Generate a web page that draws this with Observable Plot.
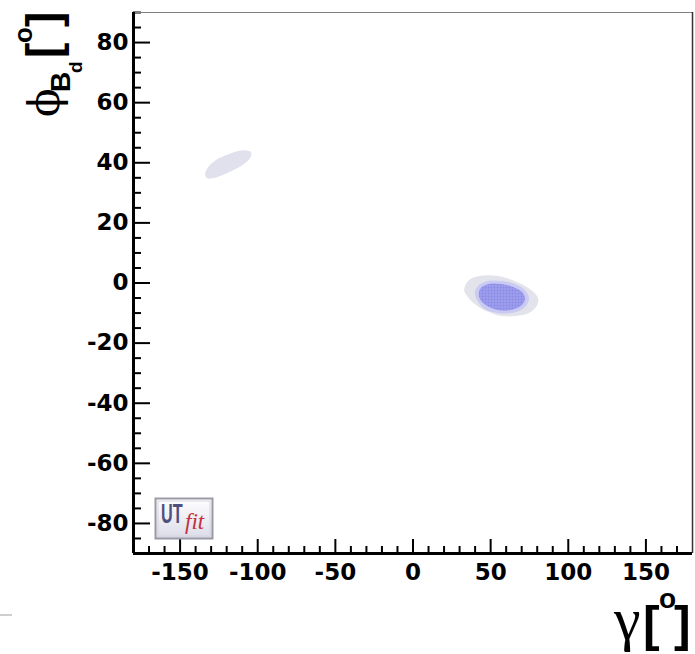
<!DOCTYPE html>
<html><head><meta charset="utf-8">
<script src="https://cdn.jsdelivr.net/npm/d3@7"></script>
<script src="https://cdn.jsdelivr.net/npm/@observablehq/plot@0.6"></script>
<style>html,body{margin:0;padding:0;background:#fff;} #chart{width:695px;height:654px;overflow:hidden}</style>
</head><body><div id="chart"></div>
<script>
// tick labels
const gammaMajorTicks = [-150, -100, -50, 0, 50, 100, 150];
const phiMajorTicks = [-80, -60, -40, -20, 0, 20, 40, 60, 80];
const gammaMinorTicks = d3.range(-170, 180, 10).filter(v => v % 50 !== 0);
const phiMinorTicks = d3.range(-90, 91, 5).filter(v => v % 20 !== 0);

// probability regions (gamma [deg], phi_Bd [deg]) boundary points
const region95Main = [[33.5,-1.0],[36.1,1.0],[42.5,2.3],[51.5,2.5],[59.9,1.7],[68.3,0.0],[76.0,-2.3],[80.5,-5.0],[79.8,-7.6],[74.7,-10.0],[66.3,-11.0],[56.7,-11.0],[48.3,-9.6],[40.6,-7.3],[35.4,-4.7],[33.0,-2.7]];
const regionEdgeMain = [[39.9,-3.0],[42.5,-0.7],[48.3,0.7],[56.7,0.7],[65.7,-0.3],[72.1,-2.3],[74.7,-5.3],[71.5,-8.3],[63.7,-10.0],[54.1,-10.0],[45.7,-8.6],[41.2,-5.6]];
const region68Main = [[42.5,-3.0],[44.4,-1.3],[48.9,-0.3],[56.7,-0.3],[64.4,-1.3],[70.2,-3.0],[72.1,-5.3],[69.5,-7.6],[63.1,-9.0],[54.7,-9.0],[47.6,-7.6],[43.1,-5.3]];
const region95Mirror = [[-133.9,36.2],[-132.0,38.5],[-126.9,40.9],[-118.5,42.9],[-109.5,44.2],[-104.3,43.5],[-105.0,41.5],[-110.8,38.9],[-119.8,36.5],[-128.1,34.9],[-132.6,34.9]];

const W = 695, H = 654, ML = 133, MR = 3, MT = 12, MB = 101;
const innerW = W - ML - MR, innerH = H - MT - MB;

const region = (data, fill) => Plot.line(data, {x: d => d[0], y: d => d[1], fill, stroke: "none", curve: "catmull-rom-closed"});
const fmt = d => String(d);

const chart = Plot.plot({
  width: W, height: H,
  marginLeft: ML, marginRight: MR, marginTop: MT, marginBottom: MB,
  x: {domain: [-180, 180]},
  y: {domain: [-90, 90]},
  style: {background: "white", color: "black"},
  marks: [
    region(region95Mirror, "#e1e1ee"),
    region(region95Main, "#e3e3ec"),
    region(regionEdgeMain, "#cacaf2"),
    region(region68Main, "url(#hatch)"),
    Plot.tickX(gammaMinorTicks, {x: d => d, stroke: "black", strokeWidth: 2, insetTop: innerH - 7}),
    Plot.tickX(gammaMajorTicks, {x: d => d, stroke: "black", strokeWidth: 2, insetTop: innerH - 14}),
    Plot.tickY(phiMinorTicks, {y: d => d, stroke: "black", strokeWidth: 2, insetRight: innerW - 8}),
    Plot.tickY(phiMajorTicks, {y: d => d, stroke: "black", strokeWidth: 2, insetRight: innerW - 17}),
    Plot.ruleY([90], {stroke: "#808080", strokeWidth: 1.2}),
    Plot.ruleX([180], {stroke: "#333", strokeWidth: 1.5}),
    Plot.ruleY([-90], {stroke: "black", strokeWidth: 3}),
    Plot.ruleX([-180], {stroke: "black", strokeWidth: 3}),
    Plot.axisX({ticks: gammaMajorTicks, tickFormat: fmt, tickSize: 0, tickPadding: 10, fontSize: 23, fontWeight: "bold", fontFamily: "DejaVu Sans", label: null}),
    Plot.axisY({ticks: phiMajorTicks, tickFormat: fmt, tickSize: 0, tickPadding: 5, fontSize: 23, fontWeight: "bold", fontFamily: "DejaVu Sans", label: null})
  ]
});
document.getElementById("chart").appendChild(chart);

const svg = d3.select(chart);
const defs = svg.insert("defs", ":first-child");
const pat = defs.append("pattern").attr("id", "hatch").attr("width", 3).attr("height", 3).attr("patternUnits", "userSpaceOnUse");
pat.append("rect").attr("width", 3).attr("height", 3).attr("fill", "#8888e4");
pat.append("path").attr("d", "M0,0.5H3M0.5,0V3").attr("stroke", "#a3a3f0").attr("stroke-width", 1);
const grad = defs.append("linearGradient").attr("id", "logoGrad").attr("x1", 0).attr("y1", 0).attr("x2", 0).attr("y2", 1);
grad.append("stop").attr("offset", "0%").attr("stop-color", "#ffffff");
grad.append("stop").attr("offset", "100%").attr("stop-color", "#dcdcea");

// y-axis title: phi_{B_d} [deg]
const yl = svg.append("text").attr("transform", "translate(59,117) rotate(-90)").attr("text-anchor", "start").attr("fill", "black");
yl.append("tspan").attr("x", 0).attr("y", 0).attr("font-family", "DejaVu Serif").attr("font-size", 42).text("ϕ");
yl.append("tspan").attr("x", 25).attr("y", 11).attr("font-family", "Liberation Sans").attr("font-weight", "bold").attr("font-size", 28).text("B");
yl.append("tspan").attr("x", 44).attr("y", 23).attr("font-family", "Liberation Sans").attr("font-weight", "bold").attr("font-size", 19).text("d");
yl.append("tspan").attr("x", 59).attr("y", 0).attr("font-family", "Liberation Sans").attr("font-weight", "bold").attr("font-size", 46).text("[");
yl.append("tspan").attr("x", 74).attr("y", -27).attr("font-family", "Liberation Sans").attr("font-weight", "bold").attr("font-size", 26).text("o");
yl.append("tspan").attr("x", 90).attr("y", 0).attr("font-family", "Liberation Sans").attr("font-weight", "bold").attr("font-size", 46).text("]");

// x-axis title: gamma [deg]
const xl = svg.append("text").attr("text-anchor", "start").attr("fill", "black");
xl.append("tspan").attr("x", 614).attr("y", 639).attr("font-family", "Liberation Serif").attr("font-size", 60).text("γ");
xl.append("tspan").attr("x", 643).attr("y", 641).attr("font-family", "Liberation Sans").attr("font-weight", "bold").attr("font-size", 50).text("[");
xl.append("tspan").attr("x", 659).attr("y", 608).attr("font-family", "Liberation Sans").attr("font-weight", "bold").attr("font-size", 28).text("o");
xl.append("tspan").attr("x", 674).attr("y", 641).attr("font-family", "Liberation Sans").attr("font-weight", "bold").attr("font-size", 50).text("]");

// UTfit logo
const logo = svg.append("g").attr("transform", "translate(155,498)");
logo.append("rect").attr("x", 0.5).attr("y", 0.5).attr("width", 57).attr("height", 40).attr("fill", "url(#logoGrad)").attr("stroke", "#9a9aa6").attr("stroke-width", 2);
logo.append("rect").attr("x", 3).attr("y", 3).attr("width", 52).attr("height", 35).attr("fill", "none").attr("stroke", "#d4d4de").attr("stroke-width", 1);
logo.append("text").attr("transform", "translate(6,25) scale(0.6,1)").attr("text-anchor", "start").attr("font-family", "Liberation Sans").attr("font-weight", "bold").attr("font-size", 27).attr("fill", "#50507e").text("UT");
logo.append("text").attr("transform", "translate(30,31)").attr("text-anchor", "start").attr("font-family", "Liberation Serif").attr("font-style", "italic").attr("font-size", 23).attr("fill", "#c4303c").text("fit");

// small scan mark at lower left
svg.append("line").attr("x1", 0).attr("x2", 12).attr("y1", 615).attr("y2", 615).attr("stroke", "#cfcfcf").attr("stroke-width", 2);
</script>
</body></html>
